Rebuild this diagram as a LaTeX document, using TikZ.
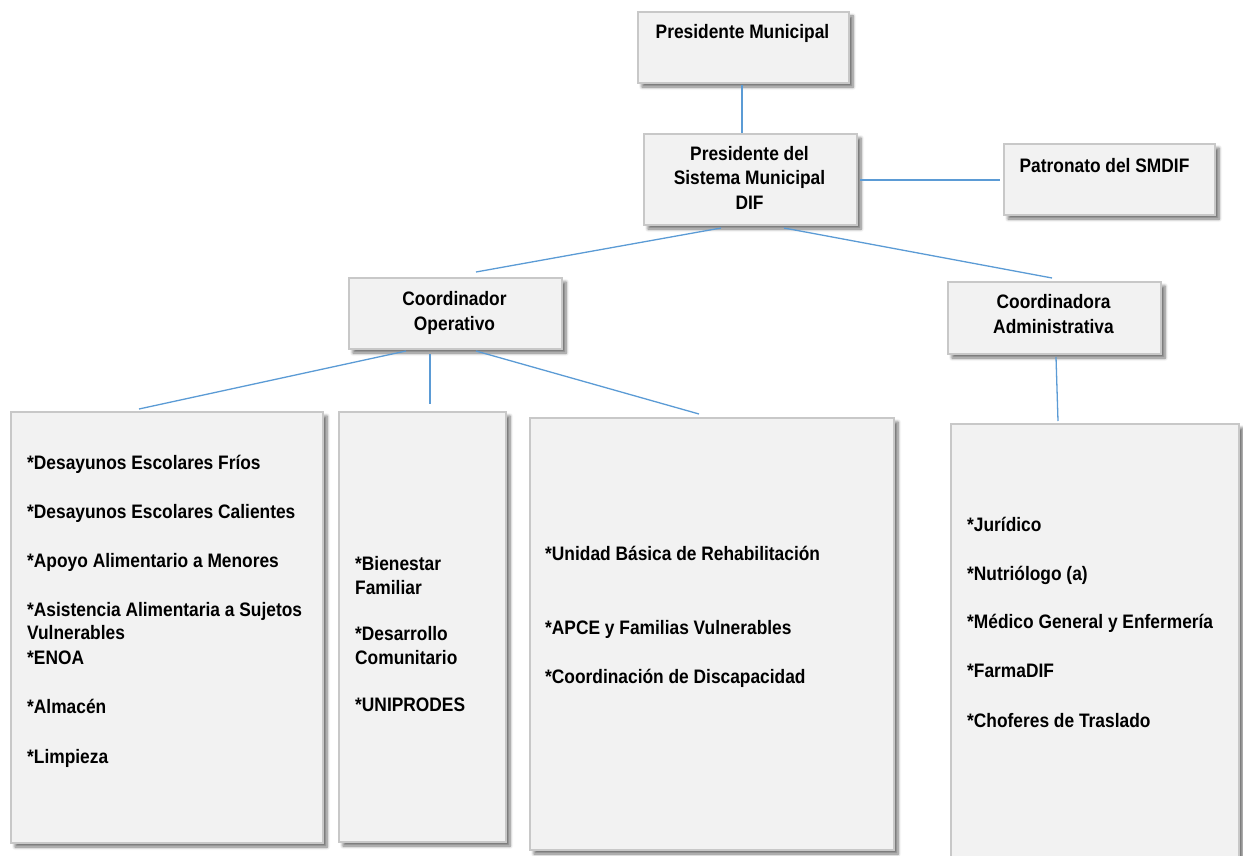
\documentclass[tikz,border=0pt]{standalone}
\usepackage{fontspec}
\setmainfont{Liberation Sans}[FakeStretch=0.89]
\usetikzlibrary{shadows,shadows.blur}
\definecolor{boxfill}{HTML}{F2F2F2}
\definecolor{boxline}{HTML}{C8C8C8}
\definecolor{conn}{HTML}{5B9BD5}
\begin{document}
\begin{tikzpicture}[x=1pt,y=-1pt,
  orgbox/.style={draw=boxline, line width=2pt, fill=boxfill, inner sep=0pt,
     blur shadow={shadow xshift=4pt, shadow yshift=-4pt, shadow blur radius=3pt, shadow blur steps=6, shadow opacity=55}},
  lab/.style={font=\fontsize{19.5}{23.5}\selectfont\bfseries, inner sep=0pt, text=black},
  link/.style={draw=conn, line width=1.3pt}]
\useasboundingbox (0,0) rectangle (1243,856);
% boxes
\node[orgbox, minimum width=211pt, minimum height=71pt, anchor=north west] (pm) at (637,11) {};
\node[orgbox, minimum width=213pt, minimum height=91pt, anchor=north west] (pd) at (643,133) {};
\node[orgbox, minimum width=211pt, minimum height=71pt, anchor=north west] (pat) at (1003,143) {};
\node[orgbox, minimum width=213pt, minimum height=71pt, anchor=north west] (co) at (348,277) {};
\node[orgbox, minimum width=213pt, minimum height=72pt, anchor=north west] (ca) at (947,281) {};
\node[orgbox, minimum width=312pt, minimum height=431pt, anchor=north west] (b1) at (10,411) {};
\node[orgbox, minimum width=167pt, minimum height=430pt, anchor=north west] (b2) at (338,411) {};
\node[orgbox, minimum width=364pt, minimum height=432pt, anchor=north west] (b3) at (529,417) {};
\node[orgbox, minimum width=288pt, minimum height=434pt, anchor=north west] (b4) at (950,423) {};
% titles
\node[lab, anchor=base] (tpm) at (742.5,39) {Presidente Municipal};
\node[lab, anchor=base] (tpd1) at (749.5,161) {Presidente del};
\node[lab, anchor=base] (tpd2) at (749.5,185) {Sistema Municipal};
\node[lab, anchor=base] (tpd3) at (749.5,209) {DIF};
\node[lab, anchor=base] (tpat) at (1104.5,172) {Patronato del SMDIF};
\node[lab, anchor=base] (tco1) at (454.5,305) {Coordinador};
\node[lab, anchor=base] (tco2) at (454.5,330) {Operativo};
\node[lab, anchor=base] (tca1) at (1053.5,308) {Coordinadora};
\node[lab, anchor=base] (tca2) at (1053.5,333) {Administrativa};
% lists
\foreach \yy/\tx [count=\i] in {469/{*Desayunos Escolares Fríos}, 518/{*Desayunos Escolares Calientes},
   567/{*Apoyo Alimentario a Menores}, 616/{*Asistencia Alimentaria a Sujetos}, 639/{Vulnerables},
   664/{*ENOA}, 713/{*Almacén}, 763/{*Limpieza}}
  \node[lab, anchor=base west] (l1-\i) at (27,\yy) {\tx};
\foreach \yy/\tx [count=\i] in {570/{*Bienestar}, 594/{Familiar}, 640/{*Desarrollo}, 664/{Comunitario}, 711/{*UNIPRODES}}
  \node[lab, anchor=base west] (l2-\i) at (355,\yy) {\tx};
\foreach \yy/\tx [count=\i] in {560/{*Unidad Básica de Rehabilitación}, 634/{*APCE y Familias Vulnerables}, 683/{*Coordinación de Discapacidad}}
  \node[lab, anchor=base west] (l3-\i) at (545,\yy) {\tx};
\foreach \yy/\tx [count=\i] in {531/{*Jurídico}, 580/{*Nutriólogo (a)}, 628/{*Médico General y Enfermería}, 677/{*FarmaDIF}, 727/{*Choferes de Traslado}}
  \node[lab, anchor=base west] (l4-\i) at (967,\yy) {\tx};
% connectors
\draw[link] ([xshift=-1.5pt,yshift=-1pt]pm.south) -- ([xshift=-1.5pt,yshift=0pt]pm.south |- pd.north);
\draw[link] ([xshift=2pt,yshift=-0.5pt]pd.east) -- ([xshift=-3pt,yshift=-0.5pt]pat.west |- pd.east);
\draw[link] ([xshift=-29.5pt,yshift=-2pt]pd.south) -- ([xshift=20.5pt,yshift=5pt]co.north);
\draw[link] ([xshift=33.5pt,yshift=-2pt]pd.south) -- ([xshift=-2.5pt,yshift=3pt]ca.north);
\draw[link] ([xshift=-49.5pt,yshift=-1pt]co.south) -- ([xshift=-28pt,yshift=2pt]b1.north);
\draw[link] ([xshift=-25.5pt,yshift=-4pt]co.south) -- ([xshift=-25.5pt,yshift=7pt]co.south |- b2.north);
\draw[link] ([xshift=20.5pt,yshift=-1pt]co.south) -- ([xshift=-13pt,yshift=3pt]b3.north);
\draw[link] ([xshift=1.5pt,yshift=-2pt]ca.south) -- ([xshift=-37pt,yshift=2pt]b4.north);
\end{tikzpicture}
\end{document}
